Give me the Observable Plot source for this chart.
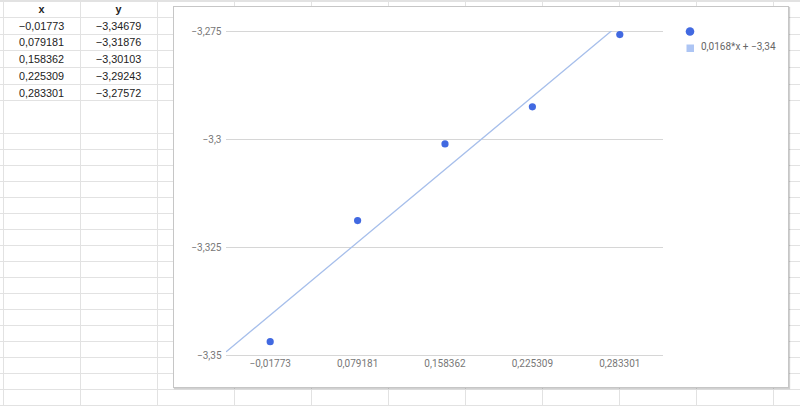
<!DOCTYPE html>
<html>
<head>
<meta charset="utf-8">
<script src="https://cdn.jsdelivr.net/npm/d3@7"></script>
<script src="https://cdn.jsdelivr.net/npm/@observablehq/plot@0.6"></script>
<style>
  html, body { margin: 0; padding: 0; background: #fff; }
  #page { position: relative; width: 800px; height: 406px; overflow: hidden; background: #fff; font-family: "Liberation Sans", Arial, sans-serif; }
  .hl { position: absolute; left: 0; width: 800px; height: 1px; background: #e2e2e2; }
  .vl { position: absolute; top: 0; height: 406px; width: 1px; background: #e2e2e2; }
  .cell { position: absolute; width: 77px; text-align: center; font-size: 10.8px; color: #222; line-height: 16px; }
  .hdr { font-weight: bold; }
  #chartbox { position: absolute; left: 173px; top: 6px; width: 614px; height: 380px; background: #fff; border: 1px solid #c6c6c6; box-shadow: 1px 1px 1px rgba(0,0,0,0.18); }
  #chart { position: absolute; left: 0; top: 0; }
  .leg { position: absolute; font-family: Roboto, sans-serif; font-size: 10px; color: #666; }
</style>
</head>
<body>
<div id="page">
  <div id="grid"></div>
  <div id="table"></div>
  <div id="chartbox">
    <div id="chart"></div>
    <div id="legend"></div>
  </div>
</div>
<script>
// ---- data ----
const xHeader = "x";
const yHeader = "y";
const xValues = [-0.01773, 0.079181, 0.158362, 0.225309, 0.283301];
const yValues = [-3.34679, -3.31876, -3.30103, -3.29243, -3.27572];
const yTicks = [-3.35, -3.325, -3.3, -3.275];
const trendLabel = "0,0168*x + \u22123,34";

const fmt = v => String(v).replace("-", "\u2212").replace(".", ",");
const xLabels = xValues.map(fmt);

// ---- spreadsheet background (layout only) ----
const grid = document.getElementById("grid");
const rowLines = [];
for (let k = 0; k < 7; k++) rowLines.push(0.5 + k * 16.6);
for (let y = 116.6 + 16; y < 410; y += 16) rowLines.push(y);
rowLines.unshift(0);
rowLines.forEach(y => { const d = document.createElement("div"); d.className = "hl"; d.style.top = y + "px"; grid.appendChild(d); });
for (let x = 2.5; x < 800; x += 77.05) { const d = document.createElement("div"); d.className = "vl"; d.style.left = x + "px"; grid.appendChild(d); }

const table = document.getElementById("table");
function cell(text, col, row, cls) {
  const d = document.createElement("div");
  d.className = "cell" + (cls ? " " + cls : "");
  d.style.left = (3 + col * 77) + "px";
  d.style.top = (1 + row * 16.7) + "px";
  d.textContent = text;
  table.appendChild(d);
}
cell(xHeader, 0, 0, "hdr");
cell(yHeader, 1, 0, "hdr");
xValues.forEach((v, i) => { cell(fmt(v), 0, i + 1); cell(fmt(yValues[i]), 1, i + 1); });

// ---- chart ----
const data = xValues.map((x, i) => ({i, x, y: yValues[i]}));
const n = data.length;
const mi = d3.mean(data, d => d.i), my = d3.mean(data, d => d.y);
const slope = d3.sum(data, d => (d.i - mi) * (d.y - my)) / d3.sum(data, d => (d.i - mi) ** 2);
const intercept = my - slope * mi;
const xDomain = [-0.5, n - 0.5];
const trend = xDomain.map(i => ({i, y: intercept + slope * i}));

const chart = Plot.plot({
  width: 614,
  height: 380,
  marginLeft: 52,
  marginRight: 125,
  marginTop: 24,
  marginBottom: 32,
  style: {fontFamily: "Roboto, sans-serif", fontSize: "10px", color: "#777", background: "transparent"},
  x: {domain: xDomain, ticks: d3.range(n), tickFormat: i => xLabels[i], label: null},
  y: {domain: [yTicks[0], yTicks[yTicks.length - 1]], ticks: yTicks, tickFormat: fmt, label: null},
  marks: [
    Plot.ruleY(yTicks, {stroke: "#d6d6d6", strokeWidth: 1}),
    Plot.axisY({ticks: yTicks, tickSize: 0, tickPadding: 5, tickFormat: fmt, fill: "#777", fontSize: 10}),
    Plot.axisX({ticks: d3.range(n), tickSize: 0, tickPadding: 4, tickFormat: i => xLabels[i], fill: "#777", fontSize: 10}),
    Plot.line(trend, {x: "i", y: "y", stroke: "#a7bfeb", strokeWidth: 1.3, clip: true}),
    Plot.dot(data, {x: "i", y: "y", r: 3.6, fill: "#4169e1", stroke: "none"})
  ]
});
document.getElementById("chart").appendChild(chart);

// ---- legend ----
const legend = document.getElementById("legend");
legend.innerHTML = `
  <svg class="leg" style="left:508px;top:17px" width="16" height="40">
    <circle cx="8" cy="7.5" r="4.3" fill="#4169e1"></circle>
    <rect x="4.5" y="20.5" width="7.5" height="7.5" fill="#adc5f4"></rect>
  </svg>
  <div class="leg" style="left:527px;top:34px">${trendLabel}</div>`;
</script>
</body>
</html>
